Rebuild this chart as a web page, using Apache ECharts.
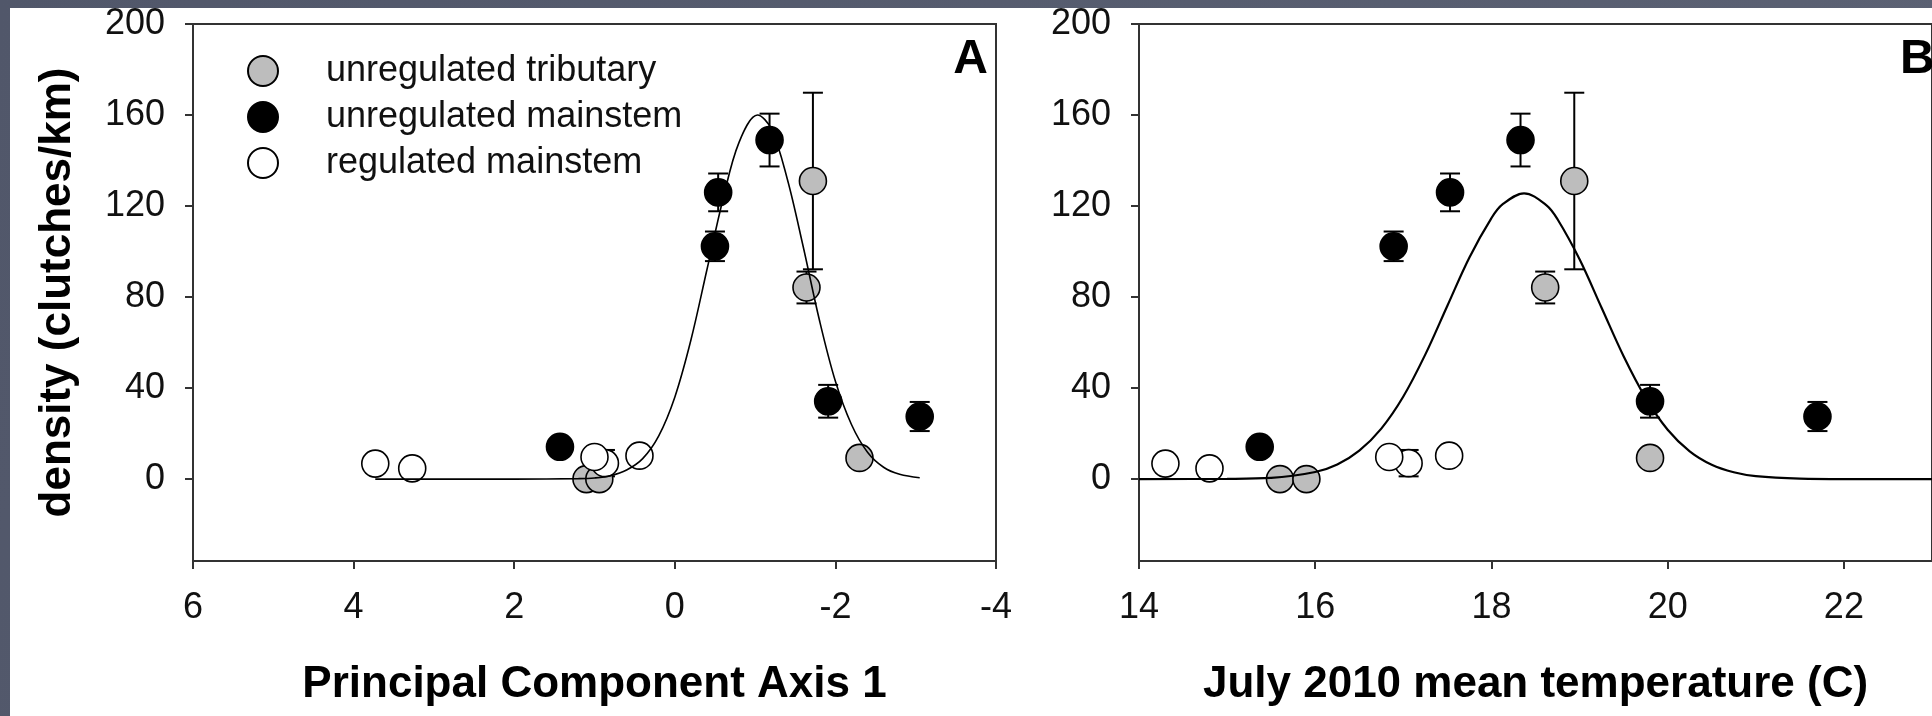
<!DOCTYPE html>
<html>
<head>
<meta charset="utf-8">
<script src="https://cdn.jsdelivr.net/npm/echarts@6/dist/echarts.min.js"></script>
<style>
  html, body { margin: 0; padding: 0; background: #555b6b; }
  #chart { width: 1932px; height: 716px; }
</style>
</head>
<body>
<div id="chart"></div>
<script>
// Site groups: density of clutches (clutches/km) against PCA axis 1 and July 2010 mean temperature
const groupNames = ['unregulated tributary', 'unregulated mainstem', 'regulated mainstem'];

const tribPC = [1.10, 0.94, -1.72, -1.64, -2.30];
const tribTemp = [15.60, 15.90, 18.94, 18.61, 19.80];
const tribDensity = [0, 0, 131, 84.2, 9.3];
const tribErr = [0, 0, 38.8, 7.0, 0];

const mainPC = [1.43, -0.50, -0.54, -1.18, -1.91, -3.05];
const mainTemp = [15.37, 16.89, 17.53, 18.33, 19.80, 21.70];
const mainDensity = [14.2, 102.3, 126.0, 149.0, 34.2, 27.5];
const mainErr = [0, 6.5, 8.3, 11.6, 7.2, 6.4];

const regPC = [3.73, 3.27, 0.87, 1.00, 0.44];
const regTemp = [14.30, 14.80, 17.06, 16.84, 17.52];
const regDensity = [6.8, 4.7, 7.0, 9.7, 10.3];
const regErr = [0, 0, 5.8, 0, 0];

// Fitted curves
const fitPC = [3.73, 2.0, 1.2, 1.0, 0.8, 0.6, 0.4, 0.2, 0.0, -0.2, -0.4, -0.6, -0.8, -1.03, -1.2, -1.4, -1.6, -1.8, -2.0, -2.2, -2.4, -2.6, -2.8, -3.05];
const fitPCDensity = [0, 0, 0.2, 0.5, 1.5, 4, 9, 19, 36, 61, 92, 123, 148, 160, 154, 132, 102, 70, 43, 24, 11.8, 5.2, 2.1, 0.6];
const fitTemp = [14.0, 15.0, 15.5, 16.0, 16.25, 16.5, 16.75, 17.0, 17.25, 17.5, 17.75, 18.0, 18.125, 18.37, 18.625, 18.75, 19.0, 19.25, 19.5, 19.75, 20.0, 20.25, 20.5, 20.75, 21.0, 21.5, 22.0, 23.0];
const fitTempDensity = [0, 0.1, 0.5, 3.1, 6.4, 12.5, 22.2, 36.3, 54.8, 76.2, 97.4, 114.7, 120.7, 125.6, 120.3, 114.2, 96.6, 75.3, 54.0, 35.7, 21.7, 12.2, 6.3, 3.0, 1.3, 0.2, 0, 0];

// Tick labels
const densityTicks = [0, 40, 80, 120, 160, 200];
const pcTicks = [6, 4, 2, 0, -2, -4];
const tempTicks = [14, 16, 18, 20, 22];

const FONT = '"Liberation Sans", Arial, Helvetica, sans-serif';
const AXIS_COLOR = '#333';
const groupFill = ['#bdbdbd', '#000000', '#ffffff'];

const zip = (xs, ys) => xs.map((x, i) => [x, ys[i]]);
const zip3 = (xs, ys, es) => xs.map((x, i) => [x, ys[i], es[i]]);

function renderErrorBar(params, api) {
  const x = api.value(0), y = api.value(1), e = api.value(2);
  if (!e) return null;
  const top = api.coord([x, y + e]);
  const bot = api.coord([x, y - e]);
  const hw = 10;
  const st = { stroke: '#000', lineWidth: 2 };
  return {
    type: 'group',
    children: [
      { type: 'line', shape: { x1: top[0], y1: top[1], x2: bot[0], y2: bot[1] }, style: st },
      { type: 'line', shape: { x1: top[0] - hw, y1: top[1], x2: top[0] + hw, y2: top[1] }, style: st },
      { type: 'line', shape: { x1: bot[0] - hw, y1: bot[1], x2: bot[0] + hw, y2: bot[1] }, style: st }
    ]
  };
}

function yAxisFor(gridIndex, withName) {
  const ax = {
    type: 'value', gridIndex: gridIndex, min: -36, max: 200,
    axisLine: { show: true, onZero: false, lineStyle: { color: AXIS_COLOR, width: 2 } },
    axisTick: { show: true, length: 8, lineStyle: { color: AXIS_COLOR, width: 2 }, customValues: densityTicks },
    axisLabel: { fontSize: 36, color: '#111', fontFamily: FONT, margin: 28, customValues: densityTicks },
    splitLine: { show: false }
  };
  if (withName) {
    ax.name = 'density (clutches/km)';
    ax.nameLocation = 'middle';
    ax.nameGap = 113;
    ax.nameTextStyle = { fontSize: 44, fontWeight: 'bold', color: '#000', fontFamily: FONT };
  }
  return ax;
}

function xAxisFor(gridIndex, opts, ticks) {
  return Object.assign({
    type: 'value', gridIndex: gridIndex,
    nameLocation: 'middle', nameGap: 102,
    nameTextStyle: { fontSize: 44, fontWeight: 'bold', color: '#000', fontFamily: FONT },
    axisLine: { show: true, onZero: false, lineStyle: { color: AXIS_COLOR, width: 2 } },
    axisTick: { show: true, length: 8, lineStyle: { color: AXIS_COLOR, width: 2 }, customValues: ticks },
    axisLabel: { fontSize: 36, color: '#111', fontFamily: FONT, margin: 29, customValues: ticks },
    splitLine: { show: false }
  }, opts);
}

const groups = [
  { name: groupNames[0], pc: tribPC, temp: tribTemp, dens: tribDensity, err: tribErr, fill: groupFill[0] },
  { name: groupNames[1], pc: mainPC, temp: mainTemp, dens: mainDensity, err: mainErr, fill: groupFill[1] },
  { name: groupNames[2], pc: regPC, temp: regTemp, dens: regDensity, err: regErr, fill: groupFill[2] }
];

const series = [];
[0, 1].forEach(function (panel) {
  groups.forEach(function (g) {
    const xv = panel === 0 ? g.pc : g.temp;
    series.push({
      type: 'custom', xAxisIndex: panel, yAxisIndex: panel, z: 2,
      renderItem: renderErrorBar, encode: { x: 0, y: 1 },
      data: zip3(xv, g.dens, g.err), silent: true
    });
  });
  groups.forEach(function (g) {
    const xv = panel === 0 ? g.pc : g.temp;
    series.push({
      type: 'scatter', name: g.name, xAxisIndex: panel, yAxisIndex: panel, z: 3,
      symbol: 'circle', symbolSize: 27,
      itemStyle: { color: g.fill, borderColor: '#000', borderWidth: 1.6, opacity: 1 },
      data: zip(xv, g.dens)
    });
  });
  series.push({
    type: 'line', xAxisIndex: panel, yAxisIndex: panel, z: 4,
    showSymbol: false, smooth: 0.35, silent: true,
    lineStyle: { color: '#000', width: panel === 0 ? 1.6 : 2.2 },
    data: panel === 0 ? zip(fitPC, fitPCDensity) : zip(fitTemp, fitTempDensity)
  });
});

const chart = echarts.init(document.getElementById('chart'), null, { renderer: 'canvas' });
chart.setOption({
  animation: false,
  backgroundColor: {
    type: 'linear', x: 0, y: 0, x2: 1, y2: 1,
    colorStops: [{ offset: 0, color: '#51576a' }, { offset: 1, color: '#5c6274' }]
  },
  graphic: [
    { type: 'rect', z: -10, shape: { x: 10, y: 8, width: 1922, height: 708 }, style: { fill: '#ffffff' } },
    { type: 'text', z: 10, style: { x: 988, y: 60, text: 'A', fill: '#000', font: 'bold 48px ' + FONT, textAlign: 'right', textVerticalAlign: 'middle' } },
    { type: 'text', z: 10, style: { x: 1900, y: 60, text: 'B', fill: '#000', font: 'bold 48px ' + FONT, textAlign: 'left', textVerticalAlign: 'middle' } }
  ],
  legend: {
    data: groupNames, orient: 'vertical', left: 247, top: 53, padding: 0,
    itemWidth: 30, itemHeight: 30, itemGap: 10, icon: 'circle', selectedMode: false,
    textStyle: { fontSize: 36, color: '#111', fontFamily: FONT, padding: [0, 0, 0, 43] }
  },
  grid: [
    { left: 193, top: 24, width: 803, height: 537, show: true, backgroundColor: '#fff', borderColor: AXIS_COLOR, borderWidth: 2 },
    { left: 1139, top: 24, width: 803, height: 537, show: true, backgroundColor: '#fff', borderColor: AXIS_COLOR, borderWidth: 2 }
  ],
  xAxis: [
    xAxisFor(0, { min: -4, max: 6, inverse: true, name: 'Principal Component Axis 1' }, pcTicks),
    xAxisFor(1, { min: 14, max: 23, name: 'July 2010 mean temperature (C)' }, tempTicks)
  ],
  yAxis: [yAxisFor(0, true), yAxisFor(1, false)],
  series: series
});
</script>
</body>
</html>
